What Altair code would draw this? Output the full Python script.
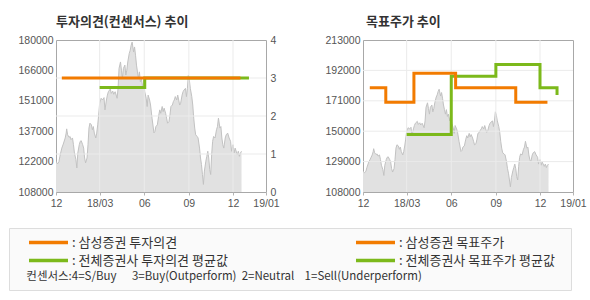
import altair as alt
import pandas as pd

# ---------------- data ----------------
# x positions: days since 2017-12-01
tick_days = [0, 90, 182, 274, 365, 396]
tick_labels = ["12", "18/03", "06", "09", "12", "19/01"]
grid_days = [90, 182, 274, 365]

price_day = [0, 3, 6, 8, 12, 15, 19, 21, 22, 24, 27, 29, 31, 34, 36, 38, 41, 43, 45, 48,
             50, 52, 55, 57, 59, 61, 64, 66, 68, 70, 73, 75, 77, 79, 82, 84, 86, 88, 90, 93,
             96, 99, 101, 104, 106, 108, 112, 114, 117, 119, 122, 126, 128, 130, 133, 135, 137, 139, 142, 144,
             146, 148, 151, 153, 155, 157, 160, 162, 164, 166, 168, 170, 172, 174, 176, 179, 181, 183, 186, 188,
             190, 193, 195, 198, 202, 204, 206, 209, 212, 214, 216, 219, 221, 223, 226, 228, 230, 233, 235, 237,
             240, 242, 244, 246, 249, 251, 253, 255, 257, 260, 262, 264, 267, 269, 271, 273, 275, 277, 280, 282,
             284, 286, 288, 291, 293, 296, 298, 300, 302, 304, 306, 309, 311, 313, 315, 317, 319, 321, 323, 325,
             328, 331, 333, 335, 338, 340, 342, 344, 346, 349, 351, 354, 357, 360, 362, 364, 365, 366, 367, 369,
             370, 371, 372, 373]
price_val = [122500, 121300, 122300, 124900, 128800, 130700, 133600, 135900, 137900, 135100,
             133900, 134300, 132800, 133600, 130400, 126500, 123400, 119400, 126500, 130400,
             132000, 132300, 130400, 128800, 124100, 121800, 124100, 130400, 138300, 140600,
             139800, 137500, 139000, 135900, 133600, 135900, 139800, 144500, 150000, 152400,
             151600, 152700, 146900, 151600, 153900, 155500, 156800, 154700, 155800, 154300,
             155500, 152400, 157100, 166500, 169600, 165700, 161800, 166500, 168100, 163400,
             165700, 169600, 173600, 175100, 177500, 179000, 174300, 176700, 172800, 168100,
             164900, 161800, 164900, 160200, 161800, 157100, 161000, 155500, 152400, 148500,
             153900, 151600, 149200, 143000, 136000, 136700, 139000, 139800, 144500, 146900,
             145300, 148500, 146100, 147700, 145300, 143000, 140600, 141400, 144500, 148500,
             149200, 150800, 151600, 153200, 151600, 153900, 151600, 149200, 150000, 153900,
             155500, 156300, 157100, 153200, 157100, 163400, 161000, 157100, 153200, 149200,
             143000, 138300, 135100, 134300, 133600, 128800, 124100, 121000, 116300, 111600,
             117900, 122600, 124900, 127300, 124100, 118600, 116300, 125700, 132000, 134300,
             133600, 137500, 139000, 143000, 138300, 139000, 133600, 130400, 128800, 133600,
             135100, 135900, 133600, 132000, 127300, 129600, 130400, 126500, 128800, 125700,
             127300, 124900, 126500, 127300]

# legend order (filled column by column): left column, then right column
series_names = ["삼성증권 투자의견", "전체증권사 투자의견 평균값", "삼성증권 목표주가", "전체증권사 목표주가 평균값"]
series_colors = ["#f27b00", "#7cb91b", "#f27b00", "#7cb91b"]

sam_op_day = [12, 372]
sam_op_val = [3, 3]
cons_op_day = [90, 183, 380]
cons_op_val = [2.75, 3, 3]

sam_tp_day = [14, 47, 105, 191, 315, 372]
sam_tp_val = [180000, 170000, 190000, 180000, 170000, 170000]
cons_tp_day = [90, 182, 274, 365, 381]
cons_tp_val = [147700, 188000, 196000, 180000, 175000]

left_price_ticks = [108000, 122400, 136800, 151200, 165600, 180000]
op_ticks = [0, 1, 2, 3, 4]
op_grid = [1, 2, 3]
right_price_ticks = [108000, 129000, 150000, 171000, 192000, 213000]
right_grid = [129000, 150000, 171000, 192000]

NB = "\u00a0"      # non-breaking space (kept by the renderer)
ZW = "\u200b"      # zero-width guard so edge spaces are not trimmed
note_text = ("컨센서스:4=S/Buy" + NB * 6 + "3=Buy(Outperform)" + NB * 2 + "2=Neutral"
             + NB * 4 + "1=Sell(Underperform)")
note = ZW + NB * 4 + note_text + NB * 55 + ZW

# ---------------- frames ----------------
price_df = pd.DataFrame({"day": price_day, "price": price_val})
vgrid_df = pd.DataFrame({"day": grid_days})
op_grid_df = pd.DataFrame({"level": op_grid})
rgrid_df = pd.DataFrame({"price": right_grid})
sam_op_df = pd.DataFrame({"day": sam_op_day, "level": sam_op_val, "series": series_names[0]})
cons_op_df = pd.DataFrame({"day": cons_op_day, "level": cons_op_val, "series": series_names[1]})
sam_tp_df = pd.DataFrame({"day": sam_tp_day, "price": sam_tp_val, "series": series_names[2]})
cons_tp_df = pd.DataFrame({"day": cons_tp_day, "price": cons_tp_val, "series": series_names[3]})

LABEL_FONT = "Liberation Sans"
KFONT = "Noto Sans CJK KR"
GRID = "#ebebeb"

x_label_expr = " : ".join(f"datum.value == {d} ? '{l}'" for d, l in zip(tick_days, tick_labels)) + " : ''"
x_enc = alt.X("day:Q",
              scale=alt.Scale(domain=[0, 365, 396], range=[0, 177, 210], nice=False, zero=False),
              axis=alt.Axis(values=tick_days, labelExpr=x_label_expr, title=None, grid=False,
                            domain=False, tickSize=3, tickColor="#b4b4b4", labelOverlap=False,
                            labelFlush=False, labelPadding=3))

legend = alt.Legend(orient="none", legendX=-47, legendY=188, columns=2,
                    padding=7, fillColor="#fafafa", strokeColor="#dddddd",
                    symbolType="stroke", symbolSize=1521, symbolStrokeWidth=3.5, symbolOffset=11,
                    clipHeight=15,
                    labelExpr="': ' + datum.label", labelFont=KFONT, labelFontSize=13,
                    labelColor="#333333", labelOffset=2, labelLimit=400,
                    columnPadding=115, rowPadding=3,
                    title=note, titleOrient="bottom", titleAnchor="start", titleFont=KFONT,
                    titleFontSize=11.5, titleFontWeight="normal", titleColor="#333333",
                    titlePadding=3, titleLimit=1000)
color_scale = alt.Scale(domain=series_names, range=series_colors)
color_enc = alt.Color("series:N", scale=color_scale, legend=legend)


def title(text, dx=0):
    return alt.TitleParams(text, anchor="start", frame="group", font=KFONT, fontSize=13,
                           fontWeight="bold", color="#333333", offset=6, dx=dx)


# ---------------- left panel ----------------
lp_scale = alt.Scale(domain=[108000, 180000], nice=False, zero=False)
lp_axis = alt.Axis(values=left_price_ticks, labelExpr="format(round(datum.value/1000)*1000, 'd')",
                   orient="left", grid=False, ticks=False, domain=False, title=None,
                   labelPadding=3, minExtent=47)
lp_y = alt.Y("price:Q", scale=lp_scale, axis=lp_axis)

price_layer_left = alt.layer(
    alt.Chart(price_df).mark_area(color="#e1e1e1", clip=True).encode(x=x_enc, y=lp_y),
    alt.Chart(price_df).mark_line(color="#c2c2c2", strokeWidth=1, clip=True).encode(x=x_enc, y=lp_y),
    alt.Chart(vgrid_df).mark_rule(color=GRID, strokeWidth=1).encode(x=x_enc),
)

op_scale = alt.Scale(domain=[0, 4], nice=False, zero=False)
op_axis = alt.Axis(values=op_ticks, orient="right", grid=False, ticks=False, domain=False,
                   title=None, labelPadding=4, minExtent=15, format="d")
op_y = alt.Y("level:Q", scale=op_scale, axis=op_axis)

op_layer = alt.layer(
    alt.Chart(op_grid_df).mark_rule(color=GRID, strokeWidth=1).encode(y=op_y),
    alt.Chart(cons_op_df).mark_line(interpolate="step-after", strokeWidth=3).encode(
        x=x_enc, y=op_y, color=color_enc),
    alt.Chart(sam_op_df).mark_line(interpolate="step-after", strokeWidth=3).encode(
        x=x_enc, y=op_y, color=color_enc),
)

left = alt.layer(price_layer_left, op_layer).resolve_scale(y="independent").properties(
    width=210, height=152, title=title("투자의견(컨센서스) 추이"))

# ---------------- right panel ----------------
rp_scale = alt.Scale(domain=[108000, 213000], nice=False, zero=False)
rp_axis = alt.Axis(values=right_price_ticks, format="d", orient="left", grid=False, ticks=False,
                   domain=False, title=None, labelPadding=3, minExtent=47)
rp_y = alt.Y("price:Q", scale=rp_scale, axis=rp_axis)

right = alt.layer(
    alt.Chart(price_df).mark_area(color="#e1e1e1", clip=True).encode(x=x_enc, y=rp_y),
    alt.Chart(price_df).mark_line(color="#c2c2c2", strokeWidth=1, clip=True).encode(x=x_enc, y=rp_y),
    alt.Chart(vgrid_df).mark_rule(color=GRID, strokeWidth=1).encode(x=x_enc),
    alt.Chart(rgrid_df).mark_rule(color=GRID, strokeWidth=1).encode(y=rp_y),
    alt.Chart(cons_tp_df).mark_line(interpolate="step-after", strokeWidth=3).encode(
        x=x_enc, y=rp_y, color=color_enc),
    alt.Chart(sam_tp_df).mark_line(interpolate="step-after", strokeWidth=3).encode(
        x=x_enc, y=rp_y, color=color_enc),
).properties(width=210, height=152, title=title("목표주가 추이", dx=3))

chart = alt.hconcat(left, right, spacing=33).properties(
    padding={"left": 8, "top": 15, "right": 0, "bottom": 0},
    background="white",
).configure_view(
    stroke="#a8a8a8", fill="white"
).configure_axis(
    labelFont=LABEL_FONT, labelFontSize=10.5, labelColor="#555555"
)

chart.save("out.html", embed_options={"renderer": "svg", "actions": False})
